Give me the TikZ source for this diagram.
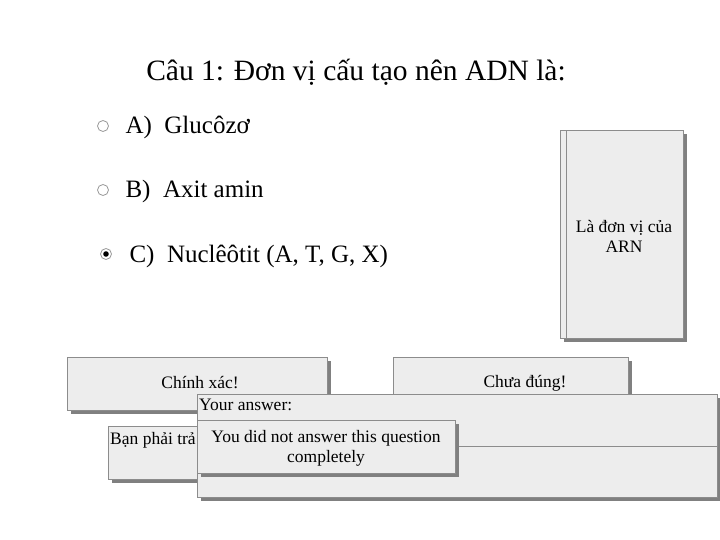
\documentclass[tikz,border=0pt]{standalone}
\usepackage{fontspec}
\setmainfont{Liberation Serif}
\begin{document}
\begin{tikzpicture}[x=1pt,y=-1pt,
  box/.style={draw=black!45,fill=black!7,line width=0.8pt},
  shad/.style={fill=black!50},
  radio/.style={circle,draw=black!40,fill=white,minimum size=11pt,inner sep=0pt,line width=0.8pt},
  opt/.style={anchor=west,font=\fontsize{25}{30}\selectfont},
  btxt/.style={font=\fontsize{17.5}{20}\selectfont,align=center}]
\useasboundingbox (0,0) rectangle (720,540);
\node[font=\fontsize{29.5}{34}\selectfont] (title) at (356,72) {Câu 1: Đơn vị cấu tạo nên ADN là:};
\node[radio] (ra) at (103,126) {};
\node[opt] (oa) at (122,127) {A)\enspace Glucôzơ};
\node[radio] (rb) at (103,190) {};
\node[opt] (ob) at (122,191) {B)\enspace Axit amin};
\node[radio] (rc) at (106,254) {};
\fill[black] (rc) circle (2.8);
\node[opt] (oc) at (126,256) {C)\enspace Nuclêôtit (A, T, G, X)};
% right feedback box
\fill[shad] (564,134) rectangle (687,342);
\draw[box] (560,130) rectangle (683,338);
\draw[box] (566,130) rectangle (683,338);
\node[btxt] (fb) at (624,236) {Là đơn vị của\\ARN};
% buttons
\fill[shad] (71,361) rectangle (331,414);
\draw[box] (67,357) rectangle (327,410);
\node[btxt] (ok) at (200,383) {Chính xác!};
\fill[shad] (397,361) rectangle (632,414);
\draw[box] (393,357) rectangle (628,410);
\node[btxt] (no) at (525,383) {Chưa đúng!};
\fill[shad] (112,430) rectangle (404,483);
\draw[box] (108,426) rectangle (400,479);
\begin{scope}
\clip (108,426) rectangle (196,479);
\node[btxt,anchor=west,inner sep=2pt] (must) at (108,440) {Bạn phải trả lời};
\end{scope}
% your answer
\fill[shad] (201,398) rectangle (721,501);
\draw[box] (197,394) rectangle (717,497);
\draw[black!45,line width=0.8pt] (197,446) -- (717,446);
\node[btxt,anchor=west,inner sep=1pt] (ya) at (198,405) {Your answer:};
\fill[shad] (201,424) rectangle (459,477);
\draw[box] (197,420) rectangle (455,473);
\node[btxt] (nd) at (326,448) {You did not answer this question\\completely};
\end{tikzpicture}
\end{document}
